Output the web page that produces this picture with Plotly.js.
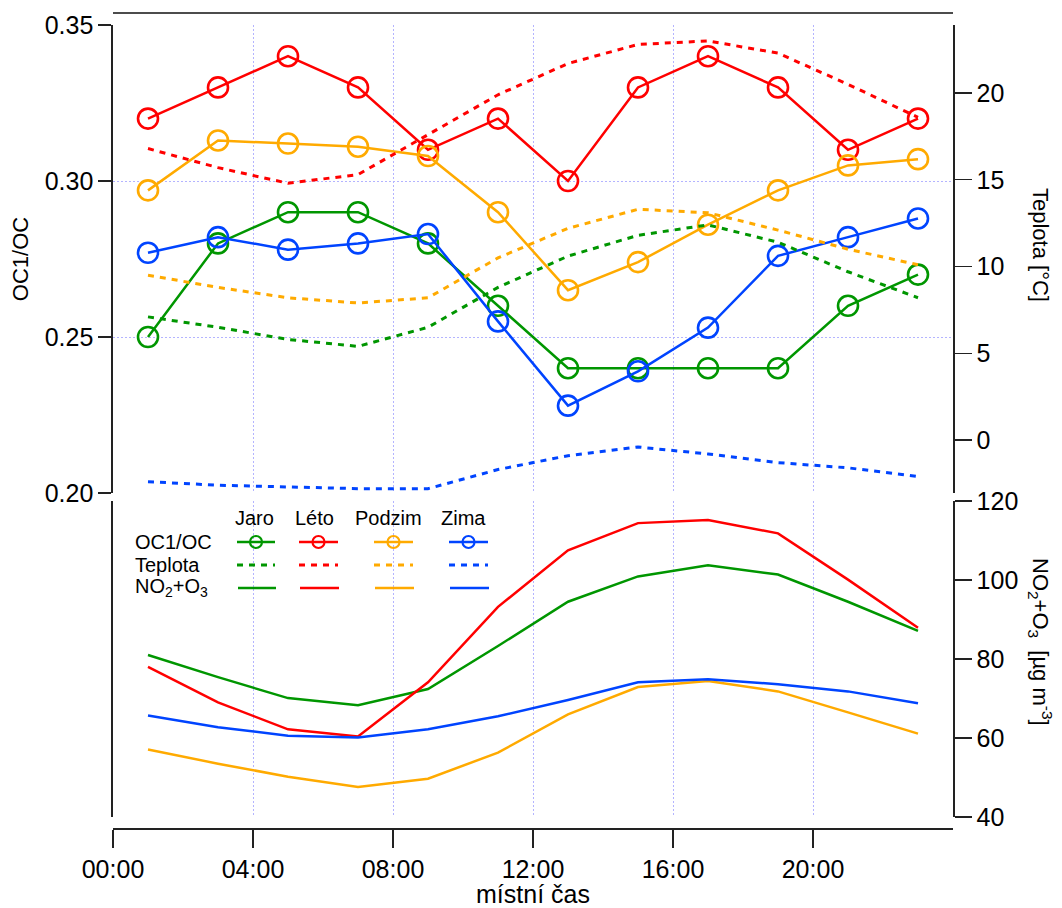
<!DOCTYPE html>
<html>
<head>
<meta charset="utf-8">
<script src="https://cdn.plot.ly/plotly-3.0.1.min.js"></script>
<style>html,body{margin:0;padding:0;background:#fff;}#chart{width:1062px;height:908px;}</style>
</head>
<body>
<div id="chart"></div>
<script>
// ---- data ----
const hours = [1, 3, 5, 7, 9, 11, 13, 15, 17, 19, 21, 23];
const seasons = ["Jaro", "Léto", "Podzim", "Zima"];
const seasonColors = ["#009600", "#ff0000", "#ffaa00", "#0044ff"];
const xTickVals = [0, 4, 8, 12, 16, 20];
const xTickText = ["00:00", "04:00", "08:00", "12:00", "16:00", "20:00"];
const ocTicks = [0.20, 0.25, 0.30, 0.35];
const tempTicks = [0, 5, 10, 15, 20];
const no2Ticks = [40, 60, 80, 100, 120];
const rowLabels = ["OC1/OC", "Teplota", "NO<sub>2</sub>+O<sub>3</sub>"];

// OC1/OC ratio
const ocJaro   = [0.250, 0.280, 0.290, 0.290, 0.280, 0.260, 0.240, 0.240, 0.240, 0.240, 0.260, 0.270];
const ocLeto   = [0.320, 0.330, 0.340, 0.330, 0.310, 0.320, 0.300, 0.330, 0.340, 0.330, 0.310, 0.320];
const ocPodzim = [0.297, 0.313, 0.312, 0.311, 0.308, 0.290, 0.265, 0.274, 0.286, 0.297, 0.305, 0.307];
const ocZima   = [0.277, 0.282, 0.278, 0.280, 0.283, 0.255, 0.228, 0.239, 0.253, 0.276, 0.282, 0.288];

// Temperature [°C]
const tJaro   = [7.1, 6.5, 5.8, 5.4, 6.5, 8.8, 10.6, 11.8, 12.4, 11.4, 9.7, 8.2];
const tLeto   = [16.8, 15.7, 14.8, 15.3, 17.6, 19.9, 21.7, 22.8, 23.0, 22.3, 20.5, 18.6];
const tPodzim = [9.5, 8.8, 8.2, 7.9, 8.2, 10.5, 12.2, 13.3, 13.1, 12.1, 11.0, 10.1];
const tZima   = [-2.4, -2.6, -2.7, -2.8, -2.8, -1.7, -0.9, -0.4, -0.8, -1.3, -1.6, -2.1];

// NO2+O3 [µg m-3]
const nJaro   = [81.0, 75.4, 70.1, 68.3, 72.4, 83.3, 94.5, 100.9, 103.7, 101.4, 94.5, 87.1];
const nLeto   = [78.0, 69.0, 62.2, 60.4, 74.1, 93.2, 107.5, 114.4, 115.2, 111.8, 100.1, 87.9];
const nPodzim = [57.1, 53.5, 50.2, 47.6, 49.7, 56.3, 66.0, 72.9, 74.4, 71.8, 66.5, 61.1];
const nZima   = [65.7, 62.7, 60.6, 60.1, 62.2, 65.5, 69.6, 74.1, 74.9, 73.6, 71.8, 68.8];

const ocSeries = [ocJaro, ocLeto, ocPodzim, ocZima];
const tSeries = [tJaro, tLeto, tPodzim, tZima];
const nSeries = [nJaro, nLeto, nPodzim, nZima];

// ---- geometry helpers (pixel -> paper) ----
const W = 1062, H = 908;
const M = {l: 113, r: 109, t: 13, b: 80};
const PW = W - M.l - M.r, PH = H - M.t - M.b;
const px = v => (v - M.l) / PW;
const py = v => (H - M.b - v) / PH;

const FONT = "Liberation Sans, Arial, Helvetica, sans-serif";
const AXC = "#222222";
const GRID = "#b4b4ff";
const TDASH = "6px,6px";

const traces = [];
// order: temperature dashed, NO2, OC
for (let i = 0; i < 4; i++) {
  traces.push({
    x: hours, y: tSeries[i], xaxis: "x", yaxis: "y2", type: "scatter", mode: "lines",
    line: {color: seasonColors[i], width: 3, dash: TDASH}, showlegend: false, hoverinfo: "skip"
  });
}
for (let i = 0; i < 4; i++) {
  traces.push({
    x: hours, y: nSeries[i], xaxis: "x", yaxis: "y3", type: "scatter", mode: "lines",
    line: {color: seasonColors[i], width: 2.5}, showlegend: false
  });
}
for (let i = 0; i < 4; i++) {
  traces.push({
    x: hours, y: ocSeries[i], xaxis: "x", yaxis: "y", type: "scatter", mode: "lines+markers",
    line: {color: seasonColors[i], width: 2.5},
    marker: {symbol: "circle-open", size: 20, color: seasonColors[i], line: {width: 2.6, color: seasonColors[i]}},
    showlegend: false
  });
}

// ---- custom legend ----
const shapes = [
  {type: "line", xref: "paper", yref: "paper", x0: 0, x1: 1, y0: 1, y1: 1, line: {color: "#111", width: 1.6}}
];
const annotations = [];
const headerX = [254, 314, 388, 463];
const sampleX = [[237, 275], [299, 338], [374, 413], [449, 488]];
const rowY = [542, 565, 588];
seasons.forEach((s, i) => {
  annotations.push({xref: "paper", yref: "paper", x: px(headerX[i]), y: py(518), text: s, showarrow: false,
    xanchor: "center", yanchor: "middle", font: {family: FONT, size: 20, color: "#000"}});
  // OC1/OC sample
  shapes.push({type: "line", xref: "paper", yref: "paper", x0: px(sampleX[i][0]), x1: px(sampleX[i][1]),
    y0: py(rowY[0]), y1: py(rowY[0]), line: {color: seasonColors[i], width: 2.5}});
  const cx = (sampleX[i][0] + sampleX[i][1]) / 2;
  shapes.push({type: "circle", xref: "paper", yref: "paper", xsizemode: "pixel", ysizemode: "pixel",
    xanchor: px(cx), yanchor: py(rowY[0]), x0: -6, x1: 6, y0: -6, y1: 6,
    line: {color: seasonColors[i], width: 2.2}, fillcolor: "rgba(0,0,0,0)"});
  // Teplota sample
  shapes.push({type: "line", xref: "paper", yref: "paper", x0: px(sampleX[i][0]), x1: px(sampleX[i][1]),
    y0: py(rowY[1]), y1: py(rowY[1]), line: {color: seasonColors[i], width: 3, dash: TDASH}});
  // NO2+O3 sample
  shapes.push({type: "line", xref: "paper", yref: "paper", x0: px(sampleX[i][0] + 1), x1: px(sampleX[i][1] + 1),
    y0: py(rowY[2]), y1: py(rowY[2]), line: {color: seasonColors[i], width: 2.5}});
});
rowLabels.forEach((t, j) => {
  annotations.push({xref: "paper", yref: "paper", x: px(133), y: py(rowY[j]), text: t, showarrow: false,
    xanchor: "left", yanchor: "middle", font: {family: FONT, size: 20, color: "#000"}});
});
// right-side titles, reading top to bottom
annotations.push({xref: "paper", yref: "paper", x: px(1041), y: py(245), text: "Teplota [°C]", showarrow: false,
  textangle: 90, xanchor: "center", yanchor: "middle", font: {family: FONT, size: 22, color: "#000"}});
annotations.push({xref: "paper", yref: "paper", x: px(1041), y: py(642), text: "NO<sub>2</sub>+O<sub>3</sub>  [µg m<sup>-3</sup>]",
  showarrow: false, textangle: 90, xanchor: "center", yanchor: "middle", font: {family: FONT, size: 22, color: "#000"}});

const layout = {
  width: W, height: H,
  margin: M,
  paper_bgcolor: "#fff", plot_bgcolor: "rgba(0,0,0,0)",
  font: {family: FONT, color: "#000"},
  showlegend: false,
  xaxis: {
    range: [0, 24], domain: [0, 1], anchor: "free", position: 0,
    tickvals: xTickVals, ticktext: xTickText, ticks: "outside", ticklen: 18, tickwidth: 1.3, tickcolor: AXC,
    showline: true, linecolor: AXC, linewidth: 1.6,
    showgrid: true, gridcolor: GRID, griddash: "2px,2px", gridwidth: 1, zeroline: false,
    tickfont: {family: FONT, size: 25},
    title: {text: "místní čas", font: {family: FONT, size: 25}, standoff: 3}
  },
  yaxis: {
    domain: [py(493), py(25)], range: [0.20, 0.35], anchor: "x", side: "left",
    tickvals: ocTicks, tickformat: ".2f", ticks: "outside", ticklen: 13, tickwidth: 1.3, tickcolor: AXC,
    showline: true, linecolor: AXC, linewidth: 1.6,
    showgrid: true, gridcolor: GRID, griddash: "2px,2px", gridwidth: 1, zeroline: false,
    tickfont: {family: FONT, size: 25},
    title: {text: "OC1/OC", font: {family: FONT, size: 22}, standoff: 10}
  },
  yaxis2: {
    overlaying: "y", side: "right", anchor: "x", range: [-3.05, 23.92],
    tickvals: tempTicks, ticks: "outside", ticklen: 17, tickwidth: 1.3, tickcolor: AXC,
    showline: true, linecolor: AXC, linewidth: 1.6, showgrid: false, zeroline: false,
    tickfont: {family: FONT, size: 25}
  },
  yaxis3: {
    domain: [py(817), py(501)], range: [40, 120], anchor: "x", side: "right",
    tickvals: no2Ticks, ticks: "outside", ticklen: 17, tickwidth: 1.3, tickcolor: AXC,
    showline: true, mirror: true, linecolor: AXC, linewidth: 1.6, showgrid: false, zeroline: false,
    tickfont: {family: FONT, size: 25}
  },
  shapes: shapes,
  annotations: annotations
};

Plotly.newPlot("chart", traces, layout, {displayModeBar: false, staticPlot: true});
</script>
</body>
</html>
